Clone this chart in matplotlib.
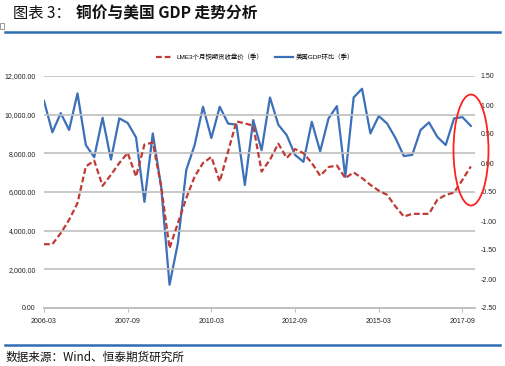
import matplotlib
matplotlib.use("Agg")
import matplotlib.pyplot as plt
from matplotlib.patches import Ellipse, Rectangle
from matplotlib.lines import Line2D

plt.rcParams['font.family'] = ['Liberation Sans', 'Noto Sans CJK SC', 'DejaVu Sans']

tick_labels = ['2006-03', '2007-09', '2010-03', '2012-09', '2015-03', '2017-09']
tick_index = [0, 10, 20, 30, 40, 50]

copper = [3300, 3300, 3870, 4560, 5420, 7320, 7620, 6320, 6890, 7500,
          8020, 6800, 8450, 8560, 6290, 3090, 4390, 5680, 6800, 7500,
          7810, 6540, 8100, 9650, 9550, 9430, 7060, 7670, 8500, 7760,
          8220, 8010, 7500, 6840, 7290, 7370, 6720, 7010, 6720, 6370,
          6070, 5850, 5250, 4730, 4870, 4870, 4870, 5600, 5850, 5970,
          6630, 7320]

gdp = [1.07, 0.53, 0.86, 0.57, 1.20, 0.31, 0.10, 0.78, 0.06, 0.77,
       0.69, 0.44, -0.67, 0.51, -0.41, -2.10, -1.38, -0.12, 0.31, 0.97,
       0.43, 0.97, 0.68, 0.66, -0.38, 0.74, 0.22, 1.13, 0.66, 0.48,
       0.14, 0.02, 0.71, 0.20, 0.77, 0.98, -0.24, 1.13, 1.28, 0.51,
       0.81, 0.68, 0.43, 0.12, 0.14, 0.57, 0.70, 0.45, 0.31, 0.77,
       0.79, 0.64]

label_copper = 'LME3个月铜期货收盘价（季）'
label_gdp = '美国GDP环比（季）'

W, H = 505, 366
fig = plt.figure(figsize=(W / 100, H / 100), dpi=100)
fig.patch.set_facecolor('white')

ax = fig.add_axes([44 / W, 1 - 308 / H, (475 - 44) / W, (308 - 76) / H])
ax2 = ax.twinx()

x = list(range(len(copper)))
red = '#BE3B36'
blue = '#3C71B9'
grid = '#BFBFBF'

ax.set_ylim(0, 12000)
ax.set_yticks(range(0, 12001, 2000))
ax.set_yticklabels([f'{v:,.2f}' for v in range(0, 12001, 2000)])
ax2.set_ylim(-2.5, 1.5)
ax2.set_yticks([-2.5, -2.0, -1.5, -1.0, -0.5, 0.0, 0.5, 1.0, 1.5])
ax2.set_yticklabels([f'{v:.2f}' for v in [-2.5, -2.0, -1.5, -1.0, -0.5, 0.0, 0.5, 1.0, 1.5]])
ax.set_xlim(0, 51.5)

ax.grid(axis='y', color=grid, linewidth=1.2)
ax.set_axisbelow(True)

ax2.plot(x, gdp, color=blue, linewidth=1.6, zorder=3)
ax.plot(x, copper, color=red, linewidth=1.6, linestyle=(0, (2.6, 1.3)), zorder=4)
ax.set_zorder(ax2.get_zorder() + 1)
ax.patch.set_visible(False)

ax.set_xticks(tick_index)
ax.set_xticklabels(tick_labels)

for a in (ax, ax2):
    for s in ('top', 'left', 'right'):
        a.spines[s].set_visible(False)
    a.spines['bottom'].set_color(grid)
    a.spines['bottom'].set_linewidth(1.2)

ax.tick_params(axis='y', length=0, pad=6, labelsize=5, labelcolor='#222222')
ax2.tick_params(axis='y', length=0, pad=4, labelsize=5, labelcolor='#222222')
ax.tick_params(axis='x', length=3, width=0.8, color=grid, pad=4, labelsize=5, labelcolor='#222222')

handles = [Line2D([], [], color=red, linewidth=1.6, linestyle=(0, (2.6, 1.3))),
           Line2D([], [], color=blue, linewidth=1.6)]
fig.legend(handles, [label_copper, label_gdp], loc='center',
           bbox_to_anchor=(255 / W, 1 - 57 / H), ncol=2, frameon=False,
           fontsize=4.6, handlelength=2.8, handletextpad=0.5, columnspacing=1.8)

# red highlight ellipse
ell = Ellipse((471 / W, 1 - 150 / H), 35 / W, 111 / H, transform=fig.transFigure,
              fill=False, edgecolor='#FF2020', linewidth=1.3, clip_on=False, zorder=10)
fig.add_artist(ell)

# title and decoration
fig.text(13 / W, 1 - 13 / H, '图表 3：', fontsize=11, ha='left', va='center',
         family=['Noto Sans CJK SC'], color='#111111')
fig.text(76 / W, 1 - 13 / H, '铜价与美国 GDP 走势分析', fontsize=11.3, ha='left', va='center',
         family=['Noto Sans CJK SC'], fontweight='bold', color='#111111')
fig.add_artist(Line2D([5 / W, 500 / W], [1 - 32 / H, 1 - 32 / H], color='#2E6DB4',
                      linewidth=1.8, transform=fig.transFigure))
fig.add_artist(Line2D([5 / W, 500 / W], [1 - 345 / H, 1 - 345 / H], color='#2E6DB4',
                      linewidth=1.8, transform=fig.transFigure))
fig.add_artist(Rectangle((0, 1 - 29 / H), 4 / W, 6 / H, transform=fig.transFigure,
                         fill=False, edgecolor='#888888', linewidth=0.6))
fig.text(5 / W, 1 - 357 / H, '数据来源：Wind、恒泰期货研究所', fontsize=8.4, ha='left', va='center',
         family=['Noto Sans CJK SC'], color='#111111')

fig.savefig('out.png', dpi=100, facecolor='white')
